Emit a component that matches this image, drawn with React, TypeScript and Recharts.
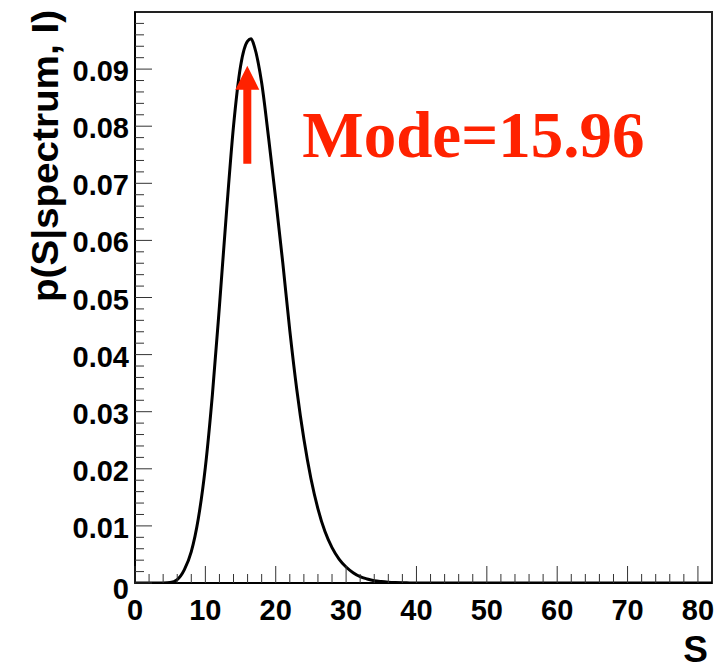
import { LineChart, Line, XAxis, YAxis, ReferenceArea, ReferenceDot } from 'recharts'

// S values and the read-off posterior density p(S|spectrum, I)
const sValues = [
  0, 1, 2, 3, 4, 5, 6, 7, 8, 9, 10, 11, 12, 13, 14, 15, 16, 16.5, 17, 18, 19, 20,
  21, 22, 23, 24, 25, 26, 27, 28, 29, 30, 31, 32, 33, 34, 35, 36, 37, 38, 39, 40, 82,
]
const density = [
  0, 0, 0, 0, 0.00002, 0.0001, 0.0006, 0.0023, 0.0055, 0.0113, 0.0203, 0.033, 0.0485,
  0.0649, 0.08, 0.0905, 0.0949, 0.0953, 0.0938, 0.0876, 0.0778, 0.0672, 0.0561, 0.0442,
  0.0338, 0.0252, 0.0183, 0.013, 0.009, 0.0062, 0.0042, 0.0028, 0.0018, 0.0011, 0.0007,
  0.0004, 0.00025, 0.00015, 0.00009, 0.00005, 0.00002, 0, 0,
]

const MODE = 15.96
const ARROW_TIP = 0.0906

const X_MAX = 82
const Y_MAX = 0.1

const xTicks: number[] = []
for (let v = 0; v <= 80; v += 2) xTicks.push(v)
const yTicks: number[] = []
for (let i = 0; i < 50; i++) yTicks.push(i / 500)

const data = sValues.map((s, i) => ({ s, p: density[i] }))

const FONT = '"Liberation Sans", Arial, Helvetica, sans-serif'
const RED = '#ff2200'

function XTick(props: any) {
  const { x, y, payload } = props
  const v = payload.value
  const major = v % 10 === 0
  return (
    <g>
      <line x1={x} x2={x} y1={y} y2={y - (major ? 17 : 9)} stroke="#333" strokeWidth={1} />
      {major && (
        <text x={x} y={y + 37} textAnchor="middle" fontFamily={FONT} fontWeight="bold" fontSize={29} fill="#000">
          {v}
        </text>
      )}
    </g>
  )
}

function YTick(props: any) {
  const { x, y, payload } = props
  const v = payload.value
  const major = Math.round(v * 1000) % 10 === 0
  return (
    <g>
      <line x1={x} x2={x + (major ? 17 : 9)} y1={y} y2={y} stroke="#333" strokeWidth={1} />
      {major && (
        <text
          x={x - 6}
          y={v === 0 ? y + 6 : y + 2}
          textAnchor="end"
          dominantBaseline="central"
          fontFamily={FONT}
          fontWeight="bold"
          fontSize={29}
          fill="#000"
        >
          {v === 0 ? '0' : v.toFixed(2)}
        </text>
      )}
    </g>
  )
}

function YTitle() {
  return (
    <text
      x={58}
      y={10}
      transform="rotate(-90, 58, 10)"
      textAnchor="end"
      fontFamily={FONT}
      fontWeight="bold"
      fontSize={37}
      textLength={292}
      lengthAdjust="spacingAndGlyphs"
      fill="#000"
    >
      p(S|spectrum, I)
    </text>
  )
}

function XTitle() {
  return (
    <text x={708} y={662} textAnchor="end" fontFamily={FONT} fontWeight="bold" fontSize={37} fill="#000">
      S
    </text>
  )
}

function ModeArrow(props: any) {
  const { cx, cy } = props
  const head = 24
  const half = 12
  const shaft = 4
  const len = 98
  const pts = [
    [cx, cy],
    [cx + half, cy + head],
    [cx + shaft, cy + head],
    [cx + shaft, cy + len],
    [cx - shaft, cy + len],
    [cx - shaft, cy + head],
    [cx - half, cy + head],
  ]
    .map(p => p.join(','))
    .join(' ')
  return (
    <g>
      <polygon points={pts} fill={RED} />
      <text
        x={cx + 55}
        y={cy + 91}
        fontFamily='"Liberation Serif", "Times New Roman", serif'
        fontWeight="bold"
        fontSize={65}
        fill={RED}
      >
        Mode={MODE.toFixed(2)}
      </text>
    </g>
  )
}

export default function App() {
  return (
    <div style={{ position: 'absolute', left: 0, top: 0, width: 715, height: 670, background: '#fff' }}>
      <LineChart width={715} height={670} data={data} margin={{ top: 12, right: 3, bottom: 27, left: 0 }}>
        <XAxis
          type="number"
          dataKey="s"
          domain={[0, X_MAX]}
          ticks={xTicks}
          interval={0}
          tickSize={0}
          tickMargin={0}
          tickLine={false}
          tick={<XTick />}
          axisLine={{ stroke: '#000', strokeWidth: 2 }}
          height={60}
          allowDataOverflow
          label={<XTitle />}
        />
        <YAxis
          type="number"
          domain={[0, Y_MAX]}
          ticks={yTicks}
          interval={0}
          tickSize={0}
          tickMargin={0}
          tickLine={false}
          tick={<YTick />}
          axisLine={{ stroke: '#000', strokeWidth: 2 }}
          width={135}
          allowDataOverflow
          label={<YTitle />}
        />
        <ReferenceArea
          x1={0}
          x2={X_MAX}
          y1={0}
          y2={Y_MAX}
          fill="none"
          fillOpacity={0}
          stroke="#222"
          strokeWidth={2}
          strokeOpacity={1}
          ifOverflow="visible"
        />
        <Line
          type="monotone"
          dataKey="p"
          stroke="#000"
          strokeWidth={3}
          dot={false}
          activeDot={false}
          isAnimationActive={false}
        />
        <ReferenceDot x={MODE} y={ARROW_TIP} r={0} shape={<ModeArrow />} ifOverflow="visible" />
      </LineChart>
    </div>
  )
}
